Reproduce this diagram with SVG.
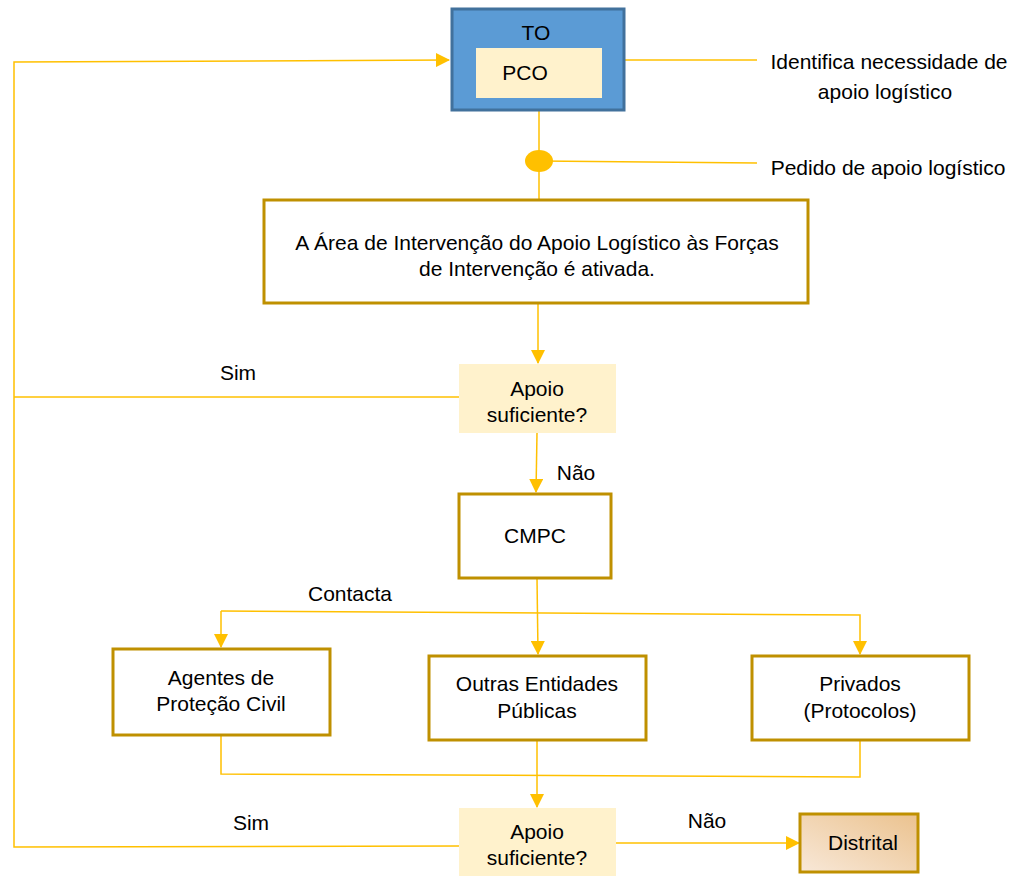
<svg xmlns="http://www.w3.org/2000/svg" width="1013" height="876" viewBox="0 0 1013 876">
<defs>
<marker id="arr" markerWidth="14" markerHeight="14" refX="13" refY="7" orient="auto" markerUnits="userSpaceOnUse">
<path d="M0,0 L14,7 L0,14 Z" fill="#FFC000"/>
</marker>
<linearGradient id="dg" x1="0" y1="1" x2="1" y2="0">
<stop offset="0" stop-color="#F8E8D8"/>
<stop offset="1" stop-color="#EBC28E"/>
</linearGradient>
<style>
text{font-family:"Liberation Sans",Arial,sans-serif;font-size:21px;fill:#000;text-anchor:middle}
.l{fill:none;stroke:#FFC000;stroke-width:1.5}
.box{fill:#fff;stroke:#BF9000;stroke-width:3}
.dec{fill:#FFF2CC;stroke:none}
</style>
</defs>
<rect width="1013" height="876" fill="#fff"/>
<g id="connectors">
<polyline class="l" points="459,397 14,397"/>
<polyline class="l" points="459,846 14,847 14,62 449,60" marker-end="url(#arr)"/>
<line class="l" x1="625" y1="60" x2="757" y2="60"/>
<line class="l" x1="539" y1="111" x2="539" y2="200"/>
<line class="l" x1="539" y1="161" x2="757" y2="163"/>
<line class="l" x1="538" y1="303" x2="538" y2="363" marker-end="url(#arr)"/>
<line class="l" x1="537" y1="433" x2="536" y2="492" marker-end="url(#arr)"/>
<line class="l" x1="537" y1="578" x2="538" y2="654" marker-end="url(#arr)"/>
<polyline class="l" points="221,611 860,615 860,654" marker-end="url(#arr)"/>
<line class="l" x1="221" y1="611" x2="221" y2="647" marker-end="url(#arr)"/>
<polyline class="l" points="221,735 221,774 860,777 860,740"/>
<line class="l" x1="537" y1="740" x2="537" y2="807" marker-end="url(#arr)"/>
<line class="l" x1="616" y1="843" x2="799" y2="843" marker-end="url(#arr)"/>
<ellipse cx="539" cy="161" rx="14" ry="11" fill="#FFC000"/>
<text x="238" y="380">Sim</text>
<text x="251" y="830">Sim</text>
<text x="576" y="480">Não</text>
<text x="707" y="828">Não</text>
<text x="350" y="601">Contacta</text>
<text x="889" y="69">Identifica necessidade de</text>
<text x="885" y="99">apoio logístico</text>
<text x="888" y="175">Pedido de apoio logístico</text>
</g>
<g id="to">
<rect x="452" y="9" width="172" height="101" fill="#5B9BD5" stroke="#41719C" stroke-width="3"/>
<text x="536" y="40">TO</text>
</g>
<g id="pco">
<rect x="476" y="48" width="126" height="50" fill="#FFF2CC"/>
<text x="525" y="80">PCO</text>
</g>
<g id="area">
<rect class="box" x="264" y="200" width="544" height="103"/>
<text x="537" y="250">A Área de Intervenção do Apoio Logístico às Forças</text>
<text x="537" y="276">de Intervenção é ativada.</text>
</g>
<g id="apoio1">
<rect class="dec" x="459" y="364" width="157" height="69"/>
<text x="537" y="396">Apoio</text>
<text x="537" y="422">suficiente?</text>
</g>
<g id="cmpc">
<rect class="box" x="459" y="494" width="152" height="84"/>
<text x="535" y="543">CMPC</text>
</g>
<g id="agentes">
<rect class="box" x="113" y="649" width="217" height="86"/>
<text x="221" y="685">Agentes de</text>
<text x="221" y="711">Proteção Civil</text>
</g>
<g id="outras">
<rect class="box" x="429" y="656" width="217" height="84"/>
<text x="537" y="691">Outras Entidades</text>
<text x="537" y="718">Públicas</text>
</g>
<g id="privados">
<rect class="box" x="752" y="656" width="217" height="84"/>
<text x="860" y="691">Privados</text>
<text x="860" y="718">(Protocolos)</text>
</g>
<g id="apoio2">
<rect class="dec" x="459" y="808" width="157" height="68"/>
<text x="537" y="839">Apoio</text>
<text x="537" y="865">suficiente?</text>
</g>
<g id="distrital">
<rect x="800" y="814" width="118" height="58" fill="url(#dg)" stroke="#BF9000" stroke-width="3"/>
<text x="863" y="850">Distrital</text>
</g>
</svg>
